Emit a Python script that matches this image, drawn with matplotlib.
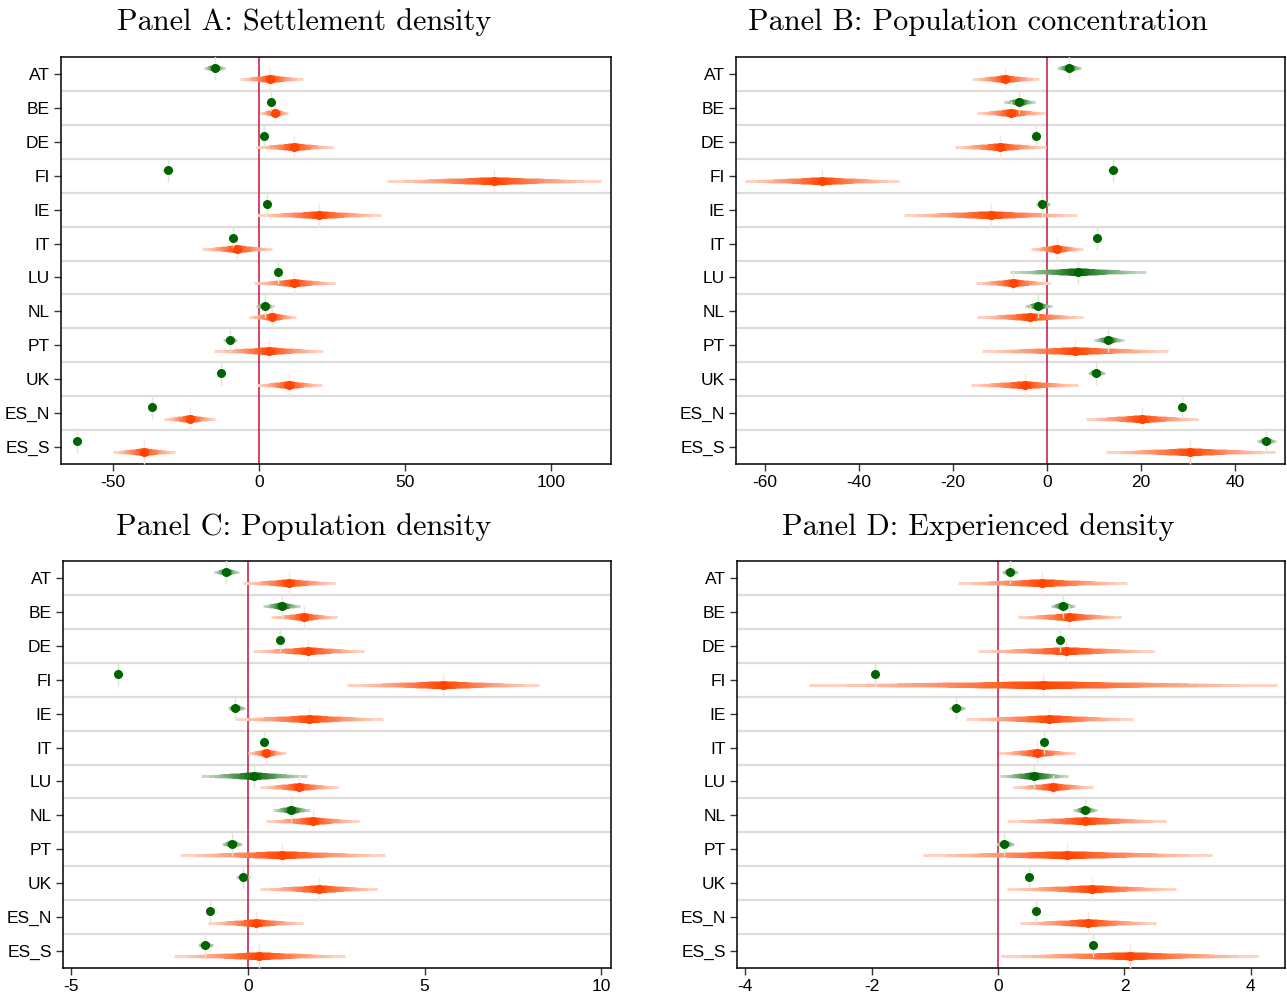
import matplotlib
matplotlib.use("Agg")
import matplotlib.pyplot as plt
import numpy as np
from matplotlib.collections import LineCollection
from matplotlib.colors import to_rgb
from statistics import NormalDist

plt.rcParams['font.family'] = ['Liberation Sans', 'DejaVu Sans']
plt.rcParams['axes.unicode_minus'] = False

countries = ['AT', 'BE', 'DE', 'FI', 'IE', 'IT', 'LU', 'NL', 'PT', 'UK', 'ES_N', 'ES_S']

titles = ['Panel A: Settlement density', 'Panel B: Population concentration',
          'Panel C: Population density', 'Panel D: Experienced density']

# Panel A
a_green = [-15.2, 4.1, 1.8, -31.3, 2.8, -8.8, 6.4, 2.0, -9.8, -13.1, -36.7, -62.3]
a_green_lo = [-18.7, 3.0, 1.0, -33.0, 2.0, -9.8, 5.6, -1.1, -12.3, -14.0, -37.5, -63.1]
a_green_hi = [-11.7, 5.2, 2.6, -29.6, 3.6, -7.8, 7.2, 5.0, -7.6, -12.2, -35.9, -61.5]
a_orange = [3.9, 5.4, 11.9, 80.5, 20.6, -7.6, 12.1, 4.6, 3.3, 10.3, -23.7, -39.4]
a_orange_lo = [-6.6, 0.3, -1.1, 43.9, -0.7, -19.6, -1.8, -3.5, -15.4, -0.8, -32.4, -50.1]
a_orange_hi = [14.9, 10.0, 25.2, 117.2, 41.6, 4.6, 25.9, 12.7, 22.0, 21.5, -15.0, -28.7]

# Panel B
b_green = [4.7, -5.9, -2.3, 14.0, -1.1, 10.6, 6.6, -2.0, 13.0, 10.4, 28.6, 46.6]
b_green_lo = [2.0, -9.1, -3.0, 13.0, -2.4, 9.8, -7.8, -4.8, 9.9, 8.6, 27.8, 44.7]
b_green_hi = [7.3, -2.6, -1.6, 15.0, 0.7, 11.4, 21.0, 1.0, 16.3, 12.3, 29.4, 48.6]
b_orange = [-9.0, -7.7, -10.0, -47.9, -12.0, 2.0, -7.2, -3.7, 6.0, -4.8, 20.1, 30.4]
b_orange_lo = [-15.9, -15.0, -19.7, -64.2, -30.5, -3.4, -15.1, -14.9, -13.8, -16.3, 8.3, 12.6]
b_orange_hi = [-1.8, -0.4, -0.2, -31.6, 6.4, 7.6, 0.5, 7.6, 25.8, 6.6, 32.1, 48.4]

# Panel C
c_green = [-0.62, 0.95, 0.90, -3.67, -0.36, 0.45, 0.16, 1.23, -0.45, -0.15, -1.08, -1.21]
c_green_lo = [-0.95, 0.43, 0.84, -3.80, -0.58, 0.38, -1.33, 0.71, -0.75, -0.33, -1.16, -1.42]
c_green_hi = [-0.26, 1.47, 0.96, -3.54, -0.08, 0.52, 1.66, 1.75, -0.16, 0.06, -1.00, -0.98]
c_orange = [1.15, 1.58, 1.70, 5.53, 1.74, 0.52, 1.43, 1.83, 0.96, 2.01, 0.22, 0.31]
c_orange_lo = [-0.13, 0.66, 0.15, 2.80, -0.33, 0.00, 0.34, 0.52, -1.93, 0.34, -1.13, -2.09]
c_orange_hi = [2.47, 2.51, 3.28, 8.25, 3.82, 1.07, 2.54, 3.13, 3.89, 3.65, 1.57, 2.74]

# Panel D
d_green = [0.19, 1.02, 0.98, -1.95, -0.66, 0.73, 0.57, 1.37, 0.10, 0.49, 0.60, 1.51]
d_green_lo = [0.06, 0.83, 0.94, -2.00, -0.77, 0.69, 0.03, 1.19, -0.03, 0.44, 0.56, 1.46]
d_green_hi = [0.32, 1.22, 1.02, -1.90, -0.53, 0.77, 1.11, 1.57, 0.26, 0.54, 0.64, 1.56]
d_orange = [0.70, 1.13, 1.08, 0.71, 0.81, 0.62, 0.87, 1.38, 1.09, 1.48, 1.42, 2.08]
d_orange_lo = [-0.64, 0.31, -0.31, -2.99, -0.51, 0.01, 0.24, 0.14, -1.19, 0.14, 0.34, 0.04]
d_orange_hi = [2.04, 1.95, 2.47, 4.42, 2.14, 1.22, 1.50, 2.66, 3.38, 2.82, 2.50, 4.12]

panels = [
    (a_green, a_green_lo, a_green_hi, a_orange, a_orange_lo, a_orange_hi),
    (b_green, b_green_lo, b_green_hi, b_orange, b_orange_lo, b_orange_hi),
    (c_green, c_green_lo, c_green_hi, c_orange, c_orange_lo, c_orange_hi),
    (d_green, d_green_lo, d_green_hi, d_orange, d_orange_lo, d_orange_hi),
]
xlims = [(-67.8, 120.5), (-66.2, 50.6), (-5.24, 10.28), (-4.13, 4.54)]
xticks = [[-50, 0, 50, 100], [-60, -40, -20, 0, 20, 40], [-5, 0, 5, 10], [-4, -2, 0, 2, 4]]

GREEN = '#006400'
ORANGE = '#FF4500'
ZERO = '#C8143C'

W, H = 1287, 994
boxes = [(61, 611, 57, 464), (736, 1285, 57, 464), (63, 611, 561, 968), (737, 1285, 561, 968)]
title_pos = [(304, 22), (978, 22), (304, 527), (978, 527)]


def blend(color, t):
    c = np.array(to_rgb(color))
    return tuple(1 - t * (1 - c))


def smooth_ci(ax, y, b, lo, hi, color):
    # nested confidence levels, wide/pale to narrow/dark
    nd = NormalDist()
    z99 = nd.inv_cdf(0.995)
    levels = np.arange(99, 0, -2)
    segs, cols, lws = [], [], []
    for lev in levels:
        f = nd.inv_cdf(0.5 + lev / 200) / z99
        segs.append([(b - f * (b - lo), y), (b + f * (hi - b), y)])
        s = 1 - lev / 100
        cols.append(blend(color, 0.14 + 0.86 * s ** 0.45))
        lws.append(2.0 + 3.4 * s ** 0.8)
    lc = LineCollection(segs, colors=cols, linewidths=lws, capstyle='butt', zorder=3)
    ax.add_collection(lc)
    ax.plot([b], [y], marker='|', markersize=17, mew=1, color=blend(color, 0.15), zorder=3.5)
    ax.plot([b], [y], marker='o', markersize=6.5, color=color, mec='none', zorder=4)


fig = plt.figure(figsize=(W / 100, H / 100), dpi=100)
rows = np.arange(len(countries))

for k, (data, box) in enumerate(zip(panels, boxes)):
    g, glo, ghi, o, olo, ohi = data
    l, r, t, bt = box
    ax = fig.add_axes([l / W, 1 - bt / H, (r - l) / W, (bt - t) / H])
    for y in rows[:-1] + 0.5:
        ax.axhline(y, color='#DCDCDC', lw=1.6, zorder=1)
    ax.axvline(0, color=ZERO, lw=1.1, zorder=2)
    for i in rows:
        smooth_ci(ax, i - 0.17, g[i], glo[i], ghi[i], GREEN)
        smooth_ci(ax, i + 0.16, o[i], olo[i], ohi[i], ORANGE)
    ax.set_xlim(*xlims[k])
    ax.set_ylim(len(countries) - 0.5, -0.5)
    ax.set_yticks(rows)
    ax.set_yticklabels(countries)
    ax.set_xticks(xticks[k])
    ax.tick_params(axis='both', labelsize=12.5, length=5, width=1, color='#333333', pad=3)
    for s in ax.spines.values():
        s.set_linewidth(1.1)
        s.set_color('black')
    fig.text(title_pos[k][0] / W, 1 - title_pos[k][1] / H, titles[k],
             family='cmr10', fontsize=21.8, ha='center', va='center')

fig.savefig('out.png', dpi=100)
